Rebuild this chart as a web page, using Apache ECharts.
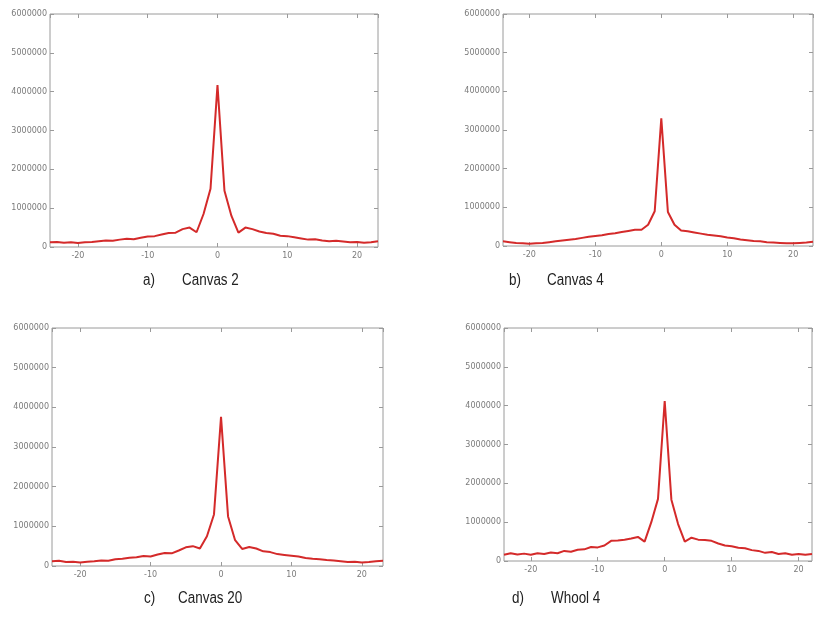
<!DOCTYPE html>
<html>
<head>
<meta charset="utf-8">
<script src="https://cdn.jsdelivr.net/npm/echarts@6/dist/echarts.min.js"></script>
<style>
  html, body { margin: 0; padding: 0; background: #ffffff; }
  #chart { width: 814px; height: 617px; }
</style>
</head>
<body>
<div id="chart"></div>
<script>
// Offsets (x) for each profile
const offsets = [-24, -23, -22, -21, -20, -19, -18, -17, -16, -15, -14, -13, -12, -11, -10, -9,
  -8, -7, -6, -5, -4, -3, -2, -1, 0, 1, 2, 3, 4, 5, 6, 7, 8, 9, 10, 11, 12, 13, 14, 15,
  16, 17, 18, 19, 20, 21, 22, 23];
const offsetsWhool = [-24, -23, -22, -21, -20, -19, -18, -17, -16, -15, -14, -13, -12, -11, -10, -9,
  -8, -7, -6, -5, -4, -3, -2, -1, 0, 1, 2, 3, 4, 5, 6, 7, 8, 9, 10, 11, 12, 13, 14, 15,
  16, 17, 18, 19, 20, 21, 22];

// Profile values
const canvas2 = [120000, 130000, 110000, 120000, 100000, 120000, 130000, 150000, 170000, 160000,
  190000, 210000, 200000, 240000, 270000, 280000, 320000, 360000, 370000, 460000, 500000, 380000,
  850000, 1500000, 4170000, 1450000, 800000, 370000, 500000, 460000, 400000, 360000, 340000,
  290000, 280000, 250000, 220000, 190000, 200000, 170000, 150000, 160000, 140000, 120000,
  130000, 110000, 120000, 150000];
const canvas4 = [120000, 100000, 80000, 70000, 60000, 70000, 80000, 100000, 120000, 140000,
  160000, 180000, 210000, 240000, 260000, 280000, 310000, 330000, 360000, 390000, 420000, 420000,
  550000, 900000, 3300000, 880000, 550000, 400000, 380000, 350000, 320000, 290000, 270000,
  250000, 220000, 200000, 170000, 150000, 130000, 120000, 100000, 90000, 80000, 70000,
  70000, 80000, 90000, 110000];
const canvas20 = [120000, 130000, 100000, 110000, 90000, 110000, 120000, 140000, 130000, 170000,
  180000, 210000, 220000, 250000, 240000, 290000, 330000, 320000, 390000, 470000, 500000, 440000,
  750000, 1300000, 3760000, 1250000, 650000, 430000, 480000, 440000, 370000, 350000, 300000,
  280000, 260000, 240000, 200000, 180000, 170000, 150000, 140000, 120000, 100000, 110000,
  90000, 100000, 120000, 130000];
const whool4 = [160000, 200000, 170000, 190000, 160000, 200000, 180000, 220000, 200000, 260000,
  240000, 290000, 300000, 360000, 350000, 400000, 520000, 530000, 550000, 580000, 620000, 500000,
  1000000, 1600000, 4120000, 1580000, 950000, 500000, 600000, 550000, 540000, 520000, 450000,
  400000, 380000, 340000, 330000, 280000, 260000, 210000, 230000, 180000, 200000, 160000,
  180000, 160000, 180000];

const panelLetters = ['a)', 'b)', 'c)', 'd)'];
const panelNames = ['Canvas 2', 'Canvas 4', 'Canvas 20', 'Whool 4'];

const panels = [
  { x: offsets, y: canvas2, xMax: 23, grid: { left: 50, top: 14, width: 328, height: 233 },
    cap: { letter: 143, name: 182, y: 281 } },
  { x: offsets, y: canvas4, xMax: 23, grid: { left: 503, top: 14, width: 310, height: 232 },
    cap: { letter: 509, name: 547, y: 281 } },
  { x: offsets, y: canvas20, xMax: 23, grid: { left: 52, top: 328, width: 331, height: 238 },
    cap: { letter: 144, name: 178, y: 599 } },
  { x: offsetsWhool, y: whool4, xMax: 22, grid: { left: 504, top: 328, width: 308, height: 233 },
    cap: { letter: 512, name: 551, y: 599 } }
];

const frameColor = '#9a9a9a';
const tickLabel = { color: '#7a7a7a', fontSize: 8, fontFamily: 'DejaVu Sans' };

const grids = [], xAxes = [], yAxes = [], series = [], graphics = [];

panels.forEach((p, i) => {
  grids.push(Object.assign({ show: true, borderColor: frameColor, borderWidth: 1,
    backgroundColor: '#ffffff', containLabel: false }, p.grid));

  const xBase = { type: 'value', gridIndex: i, min: -24, max: p.xMax, splitNumber: 5,
    splitLine: { show: false }, axisLine: { show: false, onZero: false },
    axisTick: { show: true, inside: true, length: 4, lineStyle: { color: frameColor } } };
  // bottom axis with labels
  xAxes.push(Object.assign({}, xBase, { position: 'bottom',
    axisLabel: Object.assign({ margin: 5, showMinLabel: false, showMaxLabel: false,
      formatter: v => (v % 10 === 0 ? String(v) : '') }, tickLabel) }));
  // top axis, ticks only
  xAxes.push(Object.assign({}, xBase, { position: 'top', axisLabel: { show: false } }));

  const yBase = { type: 'value', gridIndex: i, min: 0, max: 6000000, interval: 1000000,
    splitLine: { show: false }, axisLine: { show: false, onZero: false },
    axisTick: { show: true, inside: true, length: 4, lineStyle: { color: frameColor } } };
  yAxes.push(Object.assign({}, yBase, { position: 'left',
    axisLabel: Object.assign({ margin: 3, formatter: v => String(v) }, tickLabel) }));
  yAxes.push(Object.assign({}, yBase, { position: 'right', axisLabel: { show: false } }));

  series.push({
    type: 'line', xAxisIndex: i * 2, yAxisIndex: i * 2,
    data: p.x.map((xv, k) => [xv, p.y[k]]),
    showSymbol: false, symbol: 'none', animation: false,
    lineStyle: { color: '#d42a2a', width: 2 }
  });

  // Captions, condensed horizontally to a narrow face
  const capStyle = { fill: '#222222', fontSize: 16,
    fontFamily: '"Liberation Sans Narrow", "Arial Narrow", "Liberation Sans", sans-serif',
    verticalAlign: 'middle' };
  graphics.push({ type: 'text', x: p.cap.letter, y: p.cap.y, scaleX: 0.84,
    style: Object.assign({ text: panelLetters[i] }, capStyle) });
  graphics.push({ type: 'text', x: p.cap.name, y: p.cap.y, scaleX: 0.84,
    style: Object.assign({ text: panelNames[i] }, capStyle) });
});

const chart = echarts.init(document.getElementById('chart'), null, { renderer: 'canvas' });
chart.setOption({
  animation: false,
  backgroundColor: '#ffffff',
  grid: grids,
  xAxis: xAxes,
  yAxis: yAxes,
  series: series,
  graphic: graphics
});
</script>
</body>
</html>
